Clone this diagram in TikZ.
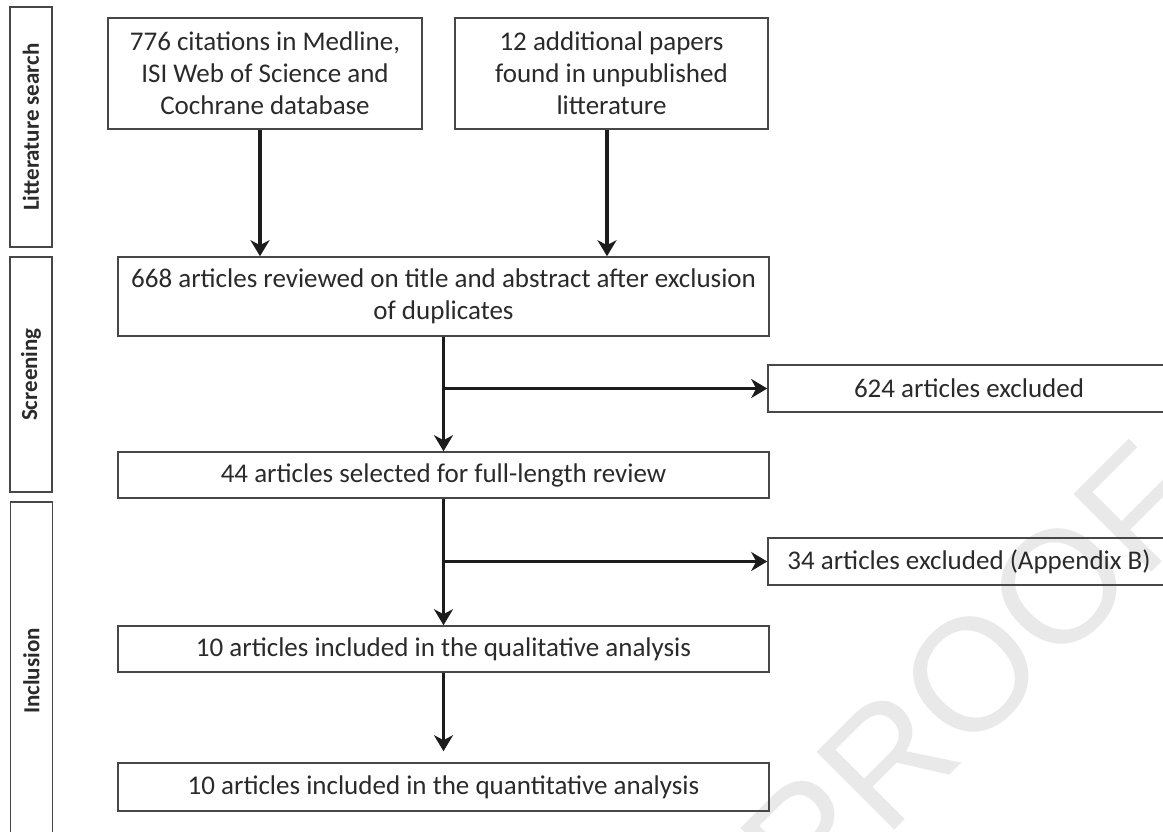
\documentclass[tikz,border=0pt]{standalone}
\usepackage{fontspec}
\setmainfont{Carlito}
\newfontfamily\wmfont{Liberation Sans}
\usepackage{tikz}
\usetikzlibrary{arrows.meta, positioning, calc}
\definecolor{boxgray}{HTML}{474747}
\definecolor{inkgray}{HTML}{2A2A2A}
\definecolor{arrowblack}{HTML}{1C1C1C}
\definecolor{wmgray}{HTML}{E9E9E9}
\tikzset{
  infobox/.style={draw=boxgray, line width=1.6pt, text=inkgray, align=center,
    inner sep=0pt, font=\fontsize{27}{32}\selectfont},
  stagebox/.style={draw=boxgray, line width=1.6pt, text=inkgray, rotate=90,
    inner sep=0pt, minimum height=42pt, font=\bfseries\fontsize{23}{26}\selectfont},
  flowarrow/.style={draw=arrowblack, line width=3.8pt,
    -{Stealth[length=16pt, width=19pt, inset=5pt]}},
}

\begin{document}
\begin{tikzpicture}[x=1pt, y=-1pt]
    \clip (0,0) rectangle (1163,831);
    % watermark
    \node[text=wmgray, rotate=45, font=\wmfont\fontsize{160}{160}\selectfont] (proofmark) at (972,675) {PROOF};
    % stages
    \node[stagebox, minimum width=240pt] (litsearch) at (31,127) {Litterature search};
    \node[stagebox, minimum width=235pt] (screening) at (31,374.5) {Screening};
    \node[stagebox, minimum width=338pt] (inclusion) at (31.5,671) {Inclusion};
    % boxes
    \node[infobox, minimum width=314pt, minimum height=111pt] (cit) at (265,73.5) {776 citations in Medline,\\ISI Web of Science and\\Cochrane database};
    \node[infobox, minimum width=313pt, minimum height=111pt] (extra) at (611.5,73.5) {12 additional papers\\found in unpublished\\litterature};
    \node[infobox, minimum width=651pt, minimum height=79pt] (reviewed) at (443.5,296.5) {668 articles reviewed on title and abstract after exclusion\\of duplicates};
    \node[infobox, minimum width=402pt, minimum height=47pt] (excl1) at (969,388.5) {624 articles excluded};
    \node[infobox, minimum width=651pt, minimum height=46pt] (selected) at (443.5,475) {44 articles selected for full-length review};
    \node[infobox, minimum width=402pt, minimum height=47pt] (excl2) at (969,561.5) {34 articles excluded (Appendix B)};
    \node[infobox, minimum width=651pt, minimum height=46pt] (quali) at (443.5,649) {10 articles included in the qualitative analysis};
    \node[infobox, minimum width=651pt, minimum height=48pt] (quanti) at (443.5,787) {10 articles included in the quantitative analysis};
    % arrows
    \draw[flowarrow] ([xshift=-5pt]cit.south) -- ([xshift=-5pt]cit.south |- reviewed.north);
    \draw[flowarrow] ([xshift=-4.5pt]extra.south) -- ([xshift=-4.5pt]extra.south |- reviewed.north);
    \draw[flowarrow] (reviewed.south) -- (selected.north);
    \draw[flowarrow] (reviewed.south |- excl1.west) -- (excl1.west);
    \draw[flowarrow] (selected.south) -- (quali.north);
    \draw[flowarrow] (selected.south |- excl2.west) -- (excl2.west);
    \draw[flowarrow] (quali.south) -- ([yshift=11pt]quanti.north);
  \end{tikzpicture}
\end{document}
